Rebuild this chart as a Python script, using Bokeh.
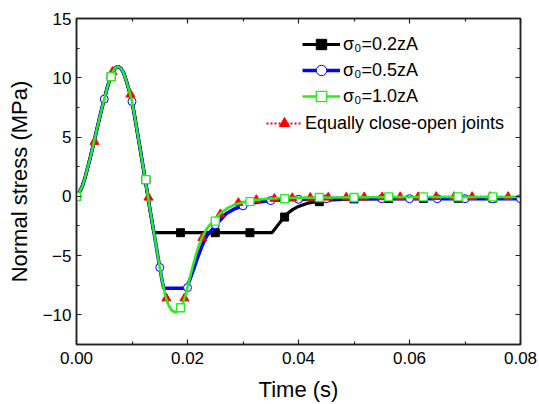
import numpy as np
from bokeh.plotting import figure
from bokeh.models import (Range1d, FixedTicker, LinearAxis, NumeralTickFormatter,
                          Legend, LegendItem)
from bokeh.embed import file_html
from bokeh.resources import INLINE

# ---------------- data (time in s, normal stress in MPa) ----------------
t_green = [0, 0.0005, 0.001, 0.0015, 0.002, 0.0025, 0.003, 0.0035, 0.004, 0.0045,
           0.005, 0.0055, 0.006, 0.0065, 0.007, 0.0075, 0.008, 0.0085, 0.009, 0.0095,
           0.01, 0.0105, 0.011, 0.0115, 0.012, 0.0124, 0.0128, 0.0133, 0.0139, 0.0145,
           0.015, 0.0155, 0.016, 0.0166, 0.0172, 0.0178, 0.0184, 0.019, 0.0196, 0.0202,
           0.0209, 0.0216, 0.0225, 0.0235, 0.0248, 0.026, 0.0272, 0.0285, 0.03, 0.0318,
           0.034, 0.037, 0.041, 0.046, 0.052, 0.06, 0.07, 0.08]
v_green = [0, 0.3, 0.8, 1.5, 2.4, 3.3, 4.3, 5.3, 6.3, 7.3,
           8.2, 9.1, 9.9, 10.5, 10.85, 10.95, 10.8, 10.4, 9.7, 8.9,
           8.0, 6.7, 5.3, 3.9, 2.5, 1.36, 0.2, -1.3, -2.9, -4.6,
           -6.0, -7.3, -8.4, -9.2, -9.65, -9.78, -9.65, -9.2, -8.4, -7.3,
           -6.0, -4.8, -3.6, -2.7, -2.0, -1.4, -1.0, -0.7, -0.5, -0.33,
           -0.22, -0.15, -0.12, -0.1, -0.08, -0.06, -0.05, -0.05]

t_red = list(t_green)
v_red = [0, 0.3, 0.8, 1.5, 2.4, 3.3, 4.3, 5.3, 6.3, 7.3,
         8.2, 9.1, 9.9, 10.5, 10.85, 10.95, 10.8, 10.4, 9.7, 8.9,
         8.0, 6.7, 5.3, 3.9, 2.5, 1.36, 0.2, -1.3, -2.9, -4.6,
         -6.0, -7.3, -8.4, -9.2, -9.65, -9.78, -9.65, -9.2, -8.4, -7.3,
         -6.0, -4.8, -3.6, -2.7, -2.0, -1.4, -1.0, -0.7, -0.5, -0.33,
         -0.22, -0.15, -0.12, -0.1, -0.08, -0.06, -0.05, -0.05]

t_blue = [0, 0.0005, 0.001, 0.0015, 0.002, 0.0025, 0.003, 0.0035, 0.004, 0.0045,
          0.005, 0.0055, 0.006, 0.0065, 0.007, 0.0075, 0.008, 0.0085, 0.009, 0.0095,
          0.01, 0.0105, 0.011, 0.0115, 0.012, 0.0124, 0.0128, 0.0133, 0.0139, 0.0145,
          0.015, 0.0155, 0.0157, 0.0197, 0.0203, 0.021, 0.0218, 0.0226, 0.0235, 0.0245,
          0.0257, 0.027, 0.0285, 0.03, 0.032, 0.0345, 0.038, 0.043, 0.05, 0.06, 0.07, 0.08]
v_blue = [0, 0.3, 0.8, 1.5, 2.4, 3.3, 4.3, 5.3, 6.3, 7.3,
          8.2, 9.1, 9.9, 10.5, 10.85, 10.95, 10.8, 10.4, 9.7, 8.9,
          8.0, 6.7, 5.3, 3.9, 2.5, 1.36, 0.2, -1.3, -2.9, -4.6,
          -6.0, -7.3, -7.75, -7.75, -7.2, -6.3, -5.2, -4.2, -3.3, -2.8,
          -2.1, -1.45, -1.05, -0.8, -0.55, -0.38, -0.28, -0.22, -0.2, -0.2, -0.2, -0.2]

t_black = [0, 0.0005, 0.001, 0.0015, 0.002, 0.0025, 0.003, 0.0035, 0.004, 0.0045,
           0.005, 0.0055, 0.006, 0.0065, 0.007, 0.0075, 0.008, 0.0085, 0.009, 0.0095,
           0.01, 0.0105, 0.011, 0.0115, 0.012, 0.0124, 0.0128, 0.0133, 0.01395, 0.0352,
           0.036, 0.037, 0.0374, 0.038, 0.039, 0.04, 0.0415, 0.0435, 0.046, 0.05, 0.06, 0.08]
v_black = [0, 0.3, 0.8, 1.5, 2.4, 3.3, 4.3, 5.3, 6.3, 7.3,
           8.2, 9.1, 9.9, 10.5, 10.85, 10.95, 10.8, 10.4, 9.7, 8.9,
           8.0, 6.7, 5.3, 3.9, 2.5, 1.36, 0.2, -1.3, -3.07, -3.07,
           -2.6, -2.0, -1.75, -1.45, -1.1, -0.85, -0.6, -0.42, -0.3, -0.22, -0.18, -0.15]

# marker samples (as shown on the chart)
tm_square = [0, 0.00625, 0.0125, 0.01875, 0.025, 0.03125, 0.0375, 0.04375,
             0.05, 0.05625, 0.0625, 0.06875, 0.075]
vm_green = [0, 10.1, 1.4, -9.4, -2.1, -0.45, -0.2, -0.1, -0.1, -0.05, -0.05, -0.05, -0.05]
vm_black = [0, 10.1, 1.4, -3.07, -3.07, -3.07, -1.75, -0.45, -0.22, -0.18, -0.17, -0.16, -0.15]

tm_circle = [0, 0.005, 0.01, 0.015, 0.02, 0.025, 0.03, 0.035, 0.04, 0.045,
             0.05, 0.055, 0.06, 0.065, 0.07, 0.075, 0.08]
vm_blue = [0, 8.2, 8.0, -6.0, -7.7, -2.4, -0.8, -0.36, -0.25, -0.21,
           -0.2, -0.2, -0.2, -0.2, -0.2, -0.2, -0.2]

tm_tri = [0, 0.00324, 0.00648, 0.00972, 0.01296, 0.0162, 0.01944, 0.02268, 0.02592,
          0.02916, 0.0324, 0.03564, 0.03888, 0.04212, 0.04536, 0.0486, 0.05184, 0.05508,
          0.05832, 0.06156, 0.0648, 0.06804, 0.07128, 0.07452, 0.07776]
vm_red = [0, 4.6, 10.5, 8.6, -0.1, -8.6, -8.6, -3.5, -1.5, -0.55, -0.3, -0.2, -0.14,
          -0.12, -0.1, -0.1, -0.08, -0.07, -0.06, -0.06, -0.05, -0.05, -0.05, -0.05, -0.05]

labels = ["σ₀=0.2zA", "σ₀=0.5zA", "σ₀=1.0zA", "Equally close-open joints"]
x_ticks = [0, 0.02, 0.04, 0.06, 0.08]
x_minor = [0.01, 0.03, 0.05, 0.07]
y_ticks = [-10, -5, 0, 5, 10, 15]
y_minor = [-12.5, -7.5, -2.5, 2.5, 7.5, 12.5]

FONT = "Liberation Sans"

p = figure(width=539, height=404, output_backend="svg", toolbar_location=None,
           x_range=Range1d(0, 0.08), y_range=Range1d(-12.5, 15),
           min_border_left=76, min_border_right=19, min_border_top=18,
           min_border_bottom=59)
p.xgrid.visible = False
p.ygrid.visible = False
p.background_fill_color = "white"
p.border_fill_color = "white"
p.outline_line_color = "#222222"
p.outline_line_width = 1.5

xt = FixedTicker(ticks=x_ticks, minor_ticks=x_minor)
yt = FixedTicker(ticks=y_ticks, minor_ticks=y_minor)


def style_axis(ax, ticker, tick_values, show_labels=True):
    ax.ticker = ticker
    ax.axis_line_color = "#222222"
    ax.axis_line_width = 1.5
    ax.major_tick_in = 5
    ax.major_tick_out = 0
    ax.minor_tick_in = 3
    ax.minor_tick_out = 0
    ax.major_tick_line_color = "#222222"
    ax.minor_tick_line_color = "#222222"
    ax.major_tick_line_width = 1.2
    ax.minor_tick_line_width = 1.2
    if show_labels:
        ax.major_label_text_font = FONT
        ax.major_label_text_font_size = "17px"
        ax.major_label_text_color = "black"
        ax.axis_label_text_font = FONT
        ax.axis_label_text_font_size = "22px"
        ax.axis_label_text_font_style = "normal"
        ax.axis_label_text_color = "black"
    else:
        ax.major_label_overrides = {v: "" for v in tick_values}
        ax.major_label_standoff = 0


xa = p.xaxis[0]
style_axis(xa, xt, x_ticks)
xa.formatter = NumeralTickFormatter(format="0.00")
xa.axis_label = "Time (s)"
xa.major_label_standoff = 7
xa.axis_label_standoff = 10

ya = p.yaxis[0]
style_axis(ya, yt, y_ticks)
ya.axis_label = "Normal stress (MPa)"
ya.major_label_standoff = 5
ya.axis_label_standoff = 8

top = LinearAxis()
style_axis(top, xt, x_ticks, show_labels=False)
p.add_layout(top, "above")
right = LinearAxis()
style_axis(right, yt, y_ticks, show_labels=False)
p.add_layout(right, "right")

BLACK, BLUE, GREEN, RED = "#000000", "#0000ff", "#22ee22", "#ff0000"

r_black = p.line(t_black, v_black, line_color=BLACK, line_width=3.2)
m_black = p.scatter(tm_square, vm_black, marker="square", size=8,
                    fill_color=BLACK, line_color=BLACK)
r_blue = p.line(t_blue, v_blue, line_color=BLUE, line_width=3.5)
m_blue = p.scatter(tm_circle, vm_blue, marker="circle", size=8,
                   fill_color="white", line_color=BLUE, line_width=1)
r_red = p.line(t_red, v_red, line_color=RED, line_width=2.2, line_dash="2 2")
m_red = p.scatter(tm_tri, vm_red, marker="triangle", size=9,
                  fill_color=RED, line_color=RED)
r_green = p.line(t_green, v_green, line_color=GREEN, line_width=2.5)
m_green = p.scatter(tm_square, vm_green, marker="square", size=8,
                    fill_color="white", line_color=GREEN, line_width=1.3)


def make_legend(items, loc, gw):
    leg = Legend(items=items, location=loc)
    leg.label_text_font = FONT
    leg.label_text_font_size = "18px"
    leg.label_text_color = "black"
    leg.glyph_width = gw
    leg.glyph_height = 26
    leg.label_height = 26
    leg.label_standoff = 3
    leg.spacing = 0
    leg.padding = 0
    leg.margin = 0
    leg.border_line_color = None
    leg.background_fill_alpha = 0
    return leg


leg1 = make_legend([
    LegendItem(label=labels[0], renderers=[r_black, m_black]),
    LegendItem(label=labels[1], renderers=[r_blue, m_blue]),
    LegendItem(label=labels[2], renderers=[r_green, m_green]),
], (226, 235), 38)
leg2 = make_legend([
    LegendItem(label=labels[3], renderers=[r_red, m_red]),
], (190, 208), 36)
p.add_layout(leg1)
p.add_layout(leg2)

open("out.html", "w").write(file_html(p, INLINE))
